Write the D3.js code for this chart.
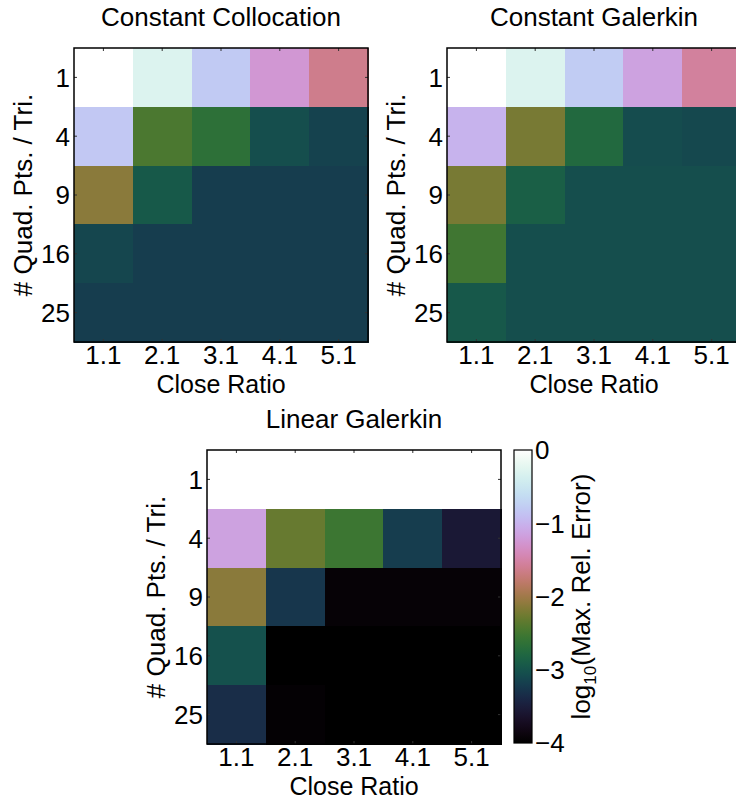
<!DOCTYPE html>
<html>
<head>
<meta charset="utf-8">
<script src="https://cdn.jsdelivr.net/npm/d3@7"></script>
<style>
  html, body { margin: 0; padding: 0; background: #fff; }
  svg { display: block; }
  text { font-family: "Liberation Sans", Arial, Helvetica, sans-serif; fill: #000; }
</style>
</head>
<body>
<svg id="chart" width="736" height="799"></svg>
<script>
// Close-ratio columns and quadrature-point rows shared by every panel
const closeRatios = ["1.1", "2.1", "3.1", "4.1", "5.1"];
const quadPoints = ["1", "4", "9", "16", "25"];

// log10 of maximum relative error, one row per quadrature count
const constantCollocation = [
  [0.0, -0.30, -0.80, -1.25, -1.63],
  [-0.82, -2.45, -2.65, -3.05, -3.15],
  [-2.12, -2.94, -3.20, -3.20, -3.20],
  [-3.12, -3.20, -3.20, -3.20, -3.20],
  [-3.20, -3.20, -3.20, -3.20, -3.20]
];
const constantGalerkin = [
  [0.0, -0.30, -0.78, -1.15, -1.55],
  [-1.00, -2.21, -2.76, -3.06, -3.10],
  [-2.21, -2.88, -3.05, -3.05, -3.05],
  [-2.52, -3.05, -3.05, -3.05, -3.05],
  [-2.95, -3.05, -3.05, -3.05, -3.05]
];
const linearGalerkin = [
  [0.0, 0.0, 0.0, 0.0, 0.0],
  [-1.15, -2.30, -2.54, -3.20, -3.56],
  [-2.12, -3.26, -3.94, -3.94, -3.94],
  [-3.02, -4.00, -4.00, -4.00, -4.00],
  [-3.34, -3.96, -4.00, -4.00, -4.00]
];
const colorTicks = [0, -1, -2, -3, -4];

const svg = d3.select("#chart");
const color = d3.scaleSequential(d3.interpolateCubehelixDefault)
  .domain([-4, 0]).clamp(true);

const FONT = 26;
const LABEL_FONT = 25;
const size = 294;

function panel(title, grid, left, top) {
  const g = svg.append("g");
  const x = d3.scaleBand().domain(closeRatios).range([left, left + size]);
  const y = d3.scaleBand().domain(quadPoints).range([top, top + size]);

  const cells = [];
  grid.forEach((row, i) => row.forEach((v, j) =>
    cells.push({ q: quadPoints[i], r: closeRatios[j], v })));

  g.selectAll("rect.cell").data(cells).join("rect")
    .attr("class", "cell")
    .attr("x", d => x(d.r))
    .attr("y", d => y(d.q))
    .attr("width", x.bandwidth() + 0.5)
    .attr("height", y.bandwidth() + 0.5)
    .attr("fill", d => color(d.v))
    .attr("shape-rendering", "crispEdges");

  // small inward tick marks at cell centres
  const tickLen = 3;
  const tk = g.append("g").attr("stroke", "#333").attr("stroke-width", 1);
  closeRatios.forEach(r => {
    const cx = x(r) + x.bandwidth() / 2;
    tk.append("line").attr("x1", cx).attr("x2", cx).attr("y1", top).attr("y2", top + tickLen);
    tk.append("line").attr("x1", cx).attr("x2", cx).attr("y1", top + size).attr("y2", top + size - tickLen);
  });
  quadPoints.forEach(q => {
    const cy = y(q) + y.bandwidth() / 2;
    tk.append("line").attr("y1", cy).attr("y2", cy).attr("x1", left).attr("x2", left + tickLen);
    tk.append("line").attr("y1", cy).attr("y2", cy).attr("x1", left + size).attr("x2", left + size - tickLen);
  });

  g.append("rect")
    .attr("x", left).attr("y", top).attr("width", size).attr("height", size)
    .attr("fill", "none").attr("stroke", "#000").attr("stroke-width", 1.5);

  // x axis labels
  g.selectAll("text.xt").data(closeRatios).join("text")
    .attr("class", "xt")
    .attr("x", d => x(d) + x.bandwidth() / 2)
    .attr("y", top + size + 22)
    .attr("text-anchor", "middle")
    .attr("font-size", FONT)
    .text(d => d);

  // y axis labels
  g.selectAll("text.yt").data(quadPoints).join("text")
    .attr("class", "yt")
    .attr("x", left - 4)
    .attr("y", d => y(d) + y.bandwidth() / 2)
    .attr("dy", "0.36em")
    .attr("text-anchor", "end")
    .attr("font-size", FONT)
    .text(d => d);

  g.append("text")
    .attr("x", left + size / 2).attr("y", top + size + 50.5)
    .attr("text-anchor", "middle").attr("font-size", LABEL_FONT)
    .text("Close Ratio");

  g.append("text")
    .attr("transform", `translate(${left - 42},${top + size / 2}) rotate(-90)`)
    .attr("text-anchor", "middle").attr("font-size", FONT)
    .text("# Quad. Pts. / Tri.");

  g.append("text")
    .attr("x", left + size / 2).attr("y", top - 22)
    .attr("text-anchor", "middle").attr("font-size", FONT)
    .text(title);
}

panel("Constant Collocation", constantCollocation, 74, 48);
panel("Constant Galerkin", constantGalerkin, 447, 48);
panel("Linear Galerkin", linearGalerkin, 207, 450);

// colour bar
const cbLeft = 514, cbTop = 450, cbW = 18, cbH = 293;
const cbScale = d3.scaleLinear().domain([-4, 0]).range([cbTop + cbH, cbTop]);
const defs = svg.append("defs");
const grad = defs.append("linearGradient")
  .attr("id", "cb-grad").attr("x1", 0).attr("y1", 1).attr("x2", 0).attr("y2", 0);
d3.range(0, 1.0001, 0.02).forEach(t => {
  grad.append("stop").attr("offset", t).attr("stop-color", d3.interpolateCubehelixDefault(t));
});
svg.append("rect")
  .attr("x", cbLeft).attr("y", cbTop).attr("width", cbW).attr("height", cbH)
  .attr("fill", "url(#cb-grad)")
  .attr("stroke", "#000").attr("stroke-width", 1.2);

svg.selectAll("text.cbt").data(colorTicks).join("text")
  .attr("class", "cbt")
  .attr("x", cbLeft + cbW + 3)
  .attr("y", d => cbScale(d))
  .attr("dy", "0.36em")
  .attr("font-size", FONT)
  .text(d => d === 0 ? "0" : "\u2212" + Math.abs(d));

const cbLabel = svg.append("text")
  .attr("transform", `translate(590,${cbTop + cbH / 2}) rotate(-90)`)
  .attr("text-anchor", "middle").attr("font-size", FONT);
cbLabel.append("tspan").text("log");
cbLabel.append("tspan").attr("font-size", 17).attr("dy", 6).text("10");
cbLabel.append("tspan").attr("dy", -6).text("(Max. Rel. Error)");
</script>
</body>
</html>
